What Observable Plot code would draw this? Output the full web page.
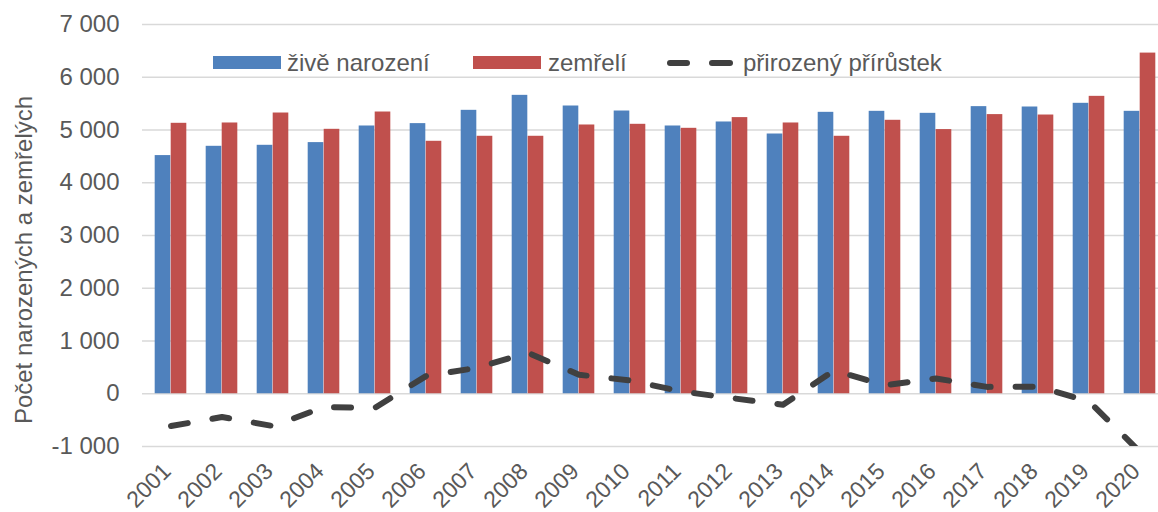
<!DOCTYPE html>
<html>
<head>
<meta charset="utf-8">
<script src="https://cdn.jsdelivr.net/npm/d3@7"></script>
<script src="https://cdn.jsdelivr.net/npm/@observablehq/plot@0.6"></script>
<style>
  html, body { margin: 0; padding: 0; background: #fff; overflow: hidden; }
  #chart svg { display: block; }
</style>
</head>
<body>
<div id="chart"></div>
<script>
const years = ["2001","2002","2003","2004","2005","2006","2007","2008","2009","2010",
               "2011","2012","2013","2014","2015","2016","2017","2018","2019","2020"];
const births = [4515, 4691, 4710, 4761, 5076, 5121, 5373, 5657, 5455, 5360,
                5076, 5152, 4924, 5335, 5354, 5316, 5443, 5436, 5506, 5354];
const deaths = [5127, 5133, 5322, 5013, 5341, 4786, 4881, 4881, 5095, 5108,
                5032, 5235, 5133, 4881, 5184, 5008, 5292, 5284, 5638, 6458];
const increase = [-612, -442, -612, -252, -265, 335, 492, 776, 360, 252,
                  44, -83, -209, 440, 160, 290, 130, 135, -145, -1104];
const yTicks = [-1000, 0, 1000, 2000, 3000, 4000, 5000, 6000, 7000];
const seriesNames = ["živě narození", "zemřelí", "přirozený přírůstek"];
const yTitle = "Počet narozených a zemřelých";

const rows = years.map((year, i) => ({year, births: births[i], deaths: deaths[i], increase: increase[i]}));
const fmt = d3.formatLocale({decimal: ",", thousands: " ", grouping: [3], currency: ["", ""], minus: "-"}).format(",d");

const X0 = 141, X1 = 1168.7;
const bandW = (X1 - X0) / years.length;
const barW = 16;
const FONT = "'Liberation Sans', Arial, sans-serif";
const TXT = "#595959";

const chart = Plot.plot({
  width: 1158,
  height: 512,
  marginTop: 24,
  marginBottom: 66,
  marginLeft: 142,
  marginRight: 0,
  style: {fontFamily: FONT, fontSize: "24px", color: TXT, background: "white"},
  x: {type: "band", domain: years, range: [X0, X1], padding: 0},
  y: {domain: [-1000, 7000]},
  marks: [
    Plot.gridY(yTicks, {stroke: "#d9d9d9", strokeOpacity: 1, strokeWidth: 1.5}),
    Plot.barY(rows, {x: "year", y: "births", fill: "#4f81bd", insetLeft: bandW / 2 - barW, insetRight: bandW / 2}),
    Plot.barY(rows, {x: "year", y: "deaths", fill: "#c0504d", insetLeft: bandW / 2, insetRight: bandW / 2 - barW}),
    Plot.line(rows, {x: "year", y: "increase", stroke: "#404040", strokeWidth: 6,
      strokeDasharray: "17,25", strokeLinecap: "round", strokeLinejoin: "round", clip: true}),
    Plot.axisY(yTicks, {tickSize: 0, tickPadding: 23, tickFormat: fmt, fontSize: 24, label: null}),
    Plot.axisX({tickRotate: -45, tickSize: 0, tickPadding: 21, dx: -4, fontSize: 23, label: null})
  ]
});
document.getElementById("chart").appendChild(chart);

const svg = d3.select(chart);
// y-axis title
svg.append("text")
  .attr("transform", "translate(32,260) rotate(-90)")
  .attr("text-anchor", "middle")
  .attr("fill", TXT)
  .style("font-family", FONT)
  .style("font-size", "24px")
  .text(yTitle);

// legend
const lg = svg.append("g")
  .style("font-family", FONT).style("font-size", "24px")
  .attr("fill", TXT).attr("text-anchor", "start");
lg.append("rect").attr("x", 213).attr("y", 56).attr("width", 68).attr("height", 13).attr("fill", "#4f81bd");
lg.append("text").attr("x", 287).attr("y", 71).attr("text-anchor", "start").text(seriesNames[0]);
lg.append("rect").attr("x", 473).attr("y", 56).attr("width", 68).attr("height", 13).attr("fill", "#c0504d");
lg.append("text").attr("x", 548).attr("y", 71).attr("text-anchor", "start").text(seriesNames[1]);
lg.append("line").attr("x1", 670).attr("x2", 687).attr("y1", 63).attr("y2", 63)
  .attr("stroke", "#404040").attr("stroke-width", 6).attr("stroke-linecap", "round");
lg.append("line").attr("x1", 712).attr("x2", 730).attr("y1", 63).attr("y2", 63)
  .attr("stroke", "#404040").attr("stroke-width", 6).attr("stroke-linecap", "round");
lg.append("text").attr("x", 743).attr("y", 71).attr("text-anchor", "start").text(seriesNames[2]);
</script>
</body>
</html>
